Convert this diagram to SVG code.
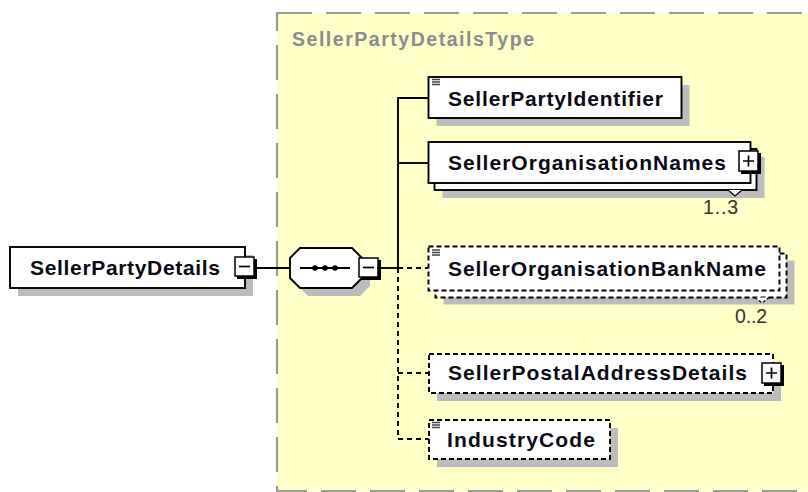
<svg xmlns="http://www.w3.org/2000/svg" width="808" height="492" viewBox="0 0 808 492">
<style>
.lbl{font-family:"Liberation Sans",Arial,sans-serif;font-weight:bold;font-size:21px;fill:#0a0a14;}
.title{font-family:"Liberation Sans",Arial,sans-serif;font-weight:bold;font-size:19.5px;fill:#8c8c8c;}
.card{font-family:"Liberation Sans",Arial,sans-serif;font-size:19.5px;fill:#3a3030;}
.box{fill:#fff;stroke:#000;stroke-width:1.9;}
.obox{fill:#fff;stroke:#000;stroke-width:1.9;stroke-dasharray:5 3;}
.shadow{fill:#bcbcbc;}
.conn{fill:none;stroke:#000;stroke-width:1.9;}
.dconn{fill:none;stroke:#000;stroke-width:1.9;stroke-dasharray:5 4;}
.icon{stroke:#444;stroke-width:1.4;}
.btnsh{fill:#000;}
.btn{fill:#fff;stroke:#000;stroke-width:1.5;}
.sign{stroke:#000;stroke-width:1.7;}
</style>
<rect x="0" y="0" width="808" height="492" fill="#fff"/>

<g id="container">
<rect x="277" y="13" width="560" height="478" fill="#ffffc8" stroke="#9a9a9a" stroke-width="2.2" stroke-dasharray="35 14"/>
<text class="title" x="292" y="46" textLength="242" lengthAdjust="spacing">SellerPartyDetailsType</text>
</g>

<g id="connectors">
<line class="conn" x1="256" y1="268" x2="290" y2="268"/>
<line class="conn" x1="380" y1="268" x2="398" y2="268"/>
<polyline class="conn" points="428.5,98 398,98 398,268"/>
<line class="conn" x1="398" y1="163" x2="428.5" y2="163"/>
<polyline class="dconn" points="398,268 398,439 429,439"/>
<line class="dconn" x1="398" y1="268" x2="428.5" y2="268"/>
<line class="dconn" x1="398" y1="373" x2="429" y2="373"/>
</g>

<g id="SellerPartyDetails">
<rect class="shadow" x="18" y="255" width="235" height="41"/>
<rect class="box" x="10" y="247" width="235" height="41"/>
<text class="lbl" x="30" y="275" textLength="190" lengthAdjust="spacing">SellerPartyDetails</text>
<rect class="btnsh" x="237" y="259" width="20" height="20"/>
<rect class="btn" x="235" y="257" width="19" height="19"/>
<line class="sign" x1="239" y1="266.5" x2="250" y2="266.5"/>
</g>

<g id="sequence">
<polygon class="shadow" points="308,256 360,256 370,266 370,286 360,296 308,296 298,286 298,266"/>
<polygon class="box" points="300,248 352,248 362,258 362,278 352,288 300,288 290,278 290,258"/>
<line class="conn" x1="300" y1="268" x2="350" y2="268"/>
<circle cx="315" cy="268" r="2.8" fill="#000"/>
<circle cx="325" cy="268" r="2.8" fill="#000"/>
<circle cx="335" cy="268" r="2.8" fill="#000"/>
<rect class="btnsh" x="361" y="260" width="20" height="20"/>
<rect class="btn" x="359" y="258" width="19" height="19"/>
<line class="sign" x1="363" y1="267.5" x2="374" y2="267.5"/>
</g>

<g id="SellerPartyIdentifier">
<rect class="shadow" x="436.5" y="85" width="253" height="41"/>
<rect class="box" x="428.5" y="77" width="253" height="41"/>
<path class="icon" d="M432 79.5H440M432 82H440M432 84.5H440"/>
<text class="lbl" x="448" y="106" textLength="215" lengthAdjust="spacing">SellerPartyIdentifier</text>
</g>

<g id="SellerOrganisationNames">
<rect class="shadow" x="442.5" y="157" width="322" height="41"/>
<rect class="box" x="434.5" y="149" width="322" height="41"/>
<rect class="box" x="428.5" y="142" width="322" height="41"/>
<polyline points="728,190 735,196 742,190" fill="#fff" stroke="#000" stroke-width="1.2"/>
<text class="lbl" x="448" y="170" textLength="278" lengthAdjust="spacing">SellerOrganisationNames</text>
<rect class="btnsh" x="741" y="153" width="20" height="21"/>
<rect class="btn" x="739" y="151" width="19" height="20"/>
<path class="sign" d="M743 161H754M748.5 155.5V166.5"/>
<text class="card" x="703" y="214" textLength="35" lengthAdjust="spacing">1..3</text>
</g>

<g id="SellerOrganisationBankName">
<rect class="shadow" x="443.5" y="260.5" width="351" height="44"/>
<rect class="obox" x="435.5" y="253.5" width="351" height="44"/>
<rect class="obox" x="428.5" y="246.5" width="351" height="44"/>
<polyline points="755,297.5 762,303 769,297.5" fill="#fff" stroke="#000" stroke-width="1.2" stroke-dasharray="3 2"/>
<path class="icon" d="M432 250H440M432 252.5H440M432 255H440"/>
<text class="lbl" x="448" y="276" textLength="318" lengthAdjust="spacing">SellerOrganisationBankName</text>
<text class="card" x="735" y="323" textLength="32" lengthAdjust="spacing">0..2</text>
</g>

<g id="SellerPostalAddressDetails">
<rect class="shadow" x="437" y="362" width="344" height="39"/>
<rect class="obox" x="429" y="354" width="344" height="39"/>
<text class="lbl" x="448" y="380" textLength="299" lengthAdjust="spacing">SellerPostalAddressDetails</text>
<rect class="btnsh" x="764" y="365" width="20" height="21"/>
<rect class="btn" x="762" y="363" width="19" height="20"/>
<path class="sign" d="M766 373H777M771.5 367.5V378.5"/>
</g>

<g id="IndustryCode">
<rect class="shadow" x="437" y="428" width="181" height="39"/>
<rect class="obox" x="429" y="420" width="181" height="39"/>
<path class="icon" d="M432 422.5H440M432 425H440M432 427.5H440"/>
<text class="lbl" x="447" y="447" textLength="148" lengthAdjust="spacing">IndustryCode</text>
</g>
</svg>
